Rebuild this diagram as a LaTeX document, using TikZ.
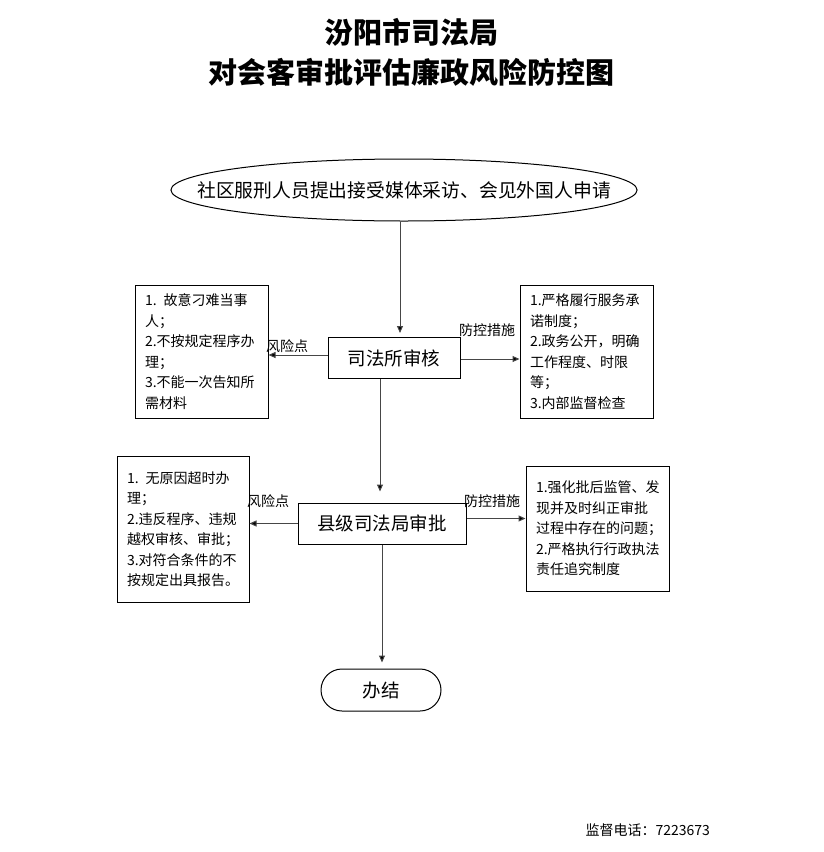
\documentclass[tikz,border=0pt]{standalone}
\usepackage{fontspec}
\setmainfont{Noto Sans CJK SC}
\usetikzlibrary{calc}
\usetikzlibrary{positioning}
\usetikzlibrary{arrows.meta}
\usetikzlibrary{shapes}
\definecolor{lineGray}{RGB}{70,70,70}
\tikzset{every picture/.style={line width=1pt}}

\begin{document}
\begin{tikzpicture}[x=1pt, y=-1pt,
		stepBox/.style={draw, rectangle, inner sep=0pt, font=\fontsize{18.5}{22}\selectfont},
		noteBox/.style={draw, rectangle, inner xsep=10pt, inner ysep=0pt, align=left, font=\fontsize{14}{20.5}\selectfont},
		flowArr/.style={draw=lineGray, -{Triangle[length=7pt,width=6pt,fill=black]}},
		tagText/.style={inner sep=0pt, font=\fontsize{14}{16}\selectfont}]
		\def\noteW{133}
		\def\noteH{133}
		\def\innerW{113}

		\useasboundingbox (0,0) rectangle (823,852);

		% title
		\node (title1) at (411,32) {\fontsize{29}{32}\selectfont\bfseries 汾阳市司法局};
		\node (title2) at (411,72) {\fontsize{29}{32}\selectfont\bfseries 对会客审批评估廉政风险防控图};

		% main flow
		\node[draw, ellipse, inner xsep=-42pt, inner ysep=0pt, minimum width=465pt, minimum height=62pt,
			font=\fontsize{18.8}{22}\selectfont] (apply) at (404,190) {\raisebox{-4pt}{社区服刑人员提出接受媒体采访、会见外国人申请}};
		\node[stepBox, minimum width=132pt, minimum height=41pt] (office) at (394,358) {司法所审核};
		\node[stepBox, minimum width=168pt, minimum height=41pt] (county) at (382,523.5) {县级司法局审批};
		\node[stepBox, rounded corners=21pt, minimum width=120pt, minimum height=42pt] (finish) at (381,690) {办结};

		% risk points and measures
		\node[noteBox, minimum width=\noteW pt, minimum height=\noteH pt, text width=\innerW pt] (risk1) at (201.5,351.5)
			{1. 故意刁难当事\\人；\\2.不按规定程序办\\理；\\3.不能一次告知所\\需材料};
		\node[noteBox, minimum width=\noteW pt, minimum height=\noteH pt, text width=\innerW pt] (ctrl1) at (586.5,351.5)
			{1.严格履行服务承\\诺制度；\\2.政务公开，明确\\工作程度、时限\\等；\\3.内部监督检查};
		\node[noteBox, minimum width=132pt, minimum height=146pt, text width=112pt] (risk2) at (183,529)
			{1. 无原因超时办\\理；\\2.违反程序、违规\\越权审核、审批；\\3.对符合条件的不\\按规定出具报告。};
		\node[noteBox, minimum width=143pt, minimum height=125pt, text width=123pt] (ctrl2) at (597.5,528.5)
			{1.强化批后监管、发\\现并及时纠正审批\\过程中存在的问题；\\2.严格执行行政执法\\责任追究制度};

		\node[tagText] (tagRisk1) at (287,346) {风险点};
		\node[tagText] (tagCtrl1) at (487,330) {防控措施};
		\node[tagText] (tagRisk2) at (268,501) {风险点};
		\node[tagText] (tagCtrl2) at (492,501) {防控措施};

		% connectors
		\draw[flowArr, shorten >=4pt] ([xshift=-4pt]apply.south) -- ([xshift=-4pt]apply.south |- office.north);
		\draw[flowArr] ([yshift=3pt]office.west) -- ([yshift=3pt]office.west -| risk1.east);
		\draw[flowArr] ([yshift=-1pt]office.east) -- ([yshift=-1pt]office.east -| ctrl1.west);
		\draw[flowArr, shorten >=11pt] ([xshift=-14pt]office.south) -- ([xshift=-14pt]office.south |- county.north);
		\draw[flowArr] (county.west) -- (county.west -| risk2.east);
		\draw[flowArr] ([yshift=5pt]county.east) -- ([yshift=5pt]county.east -| ctrl2.west);
		\draw[flowArr, shorten >=6pt] (county.south) -- (county.south |- finish.north);

		% footer
		\node[tagText, anchor=west] (phone) at (585,830) {监督电话：7223673};
\end{tikzpicture}
\end{document}
